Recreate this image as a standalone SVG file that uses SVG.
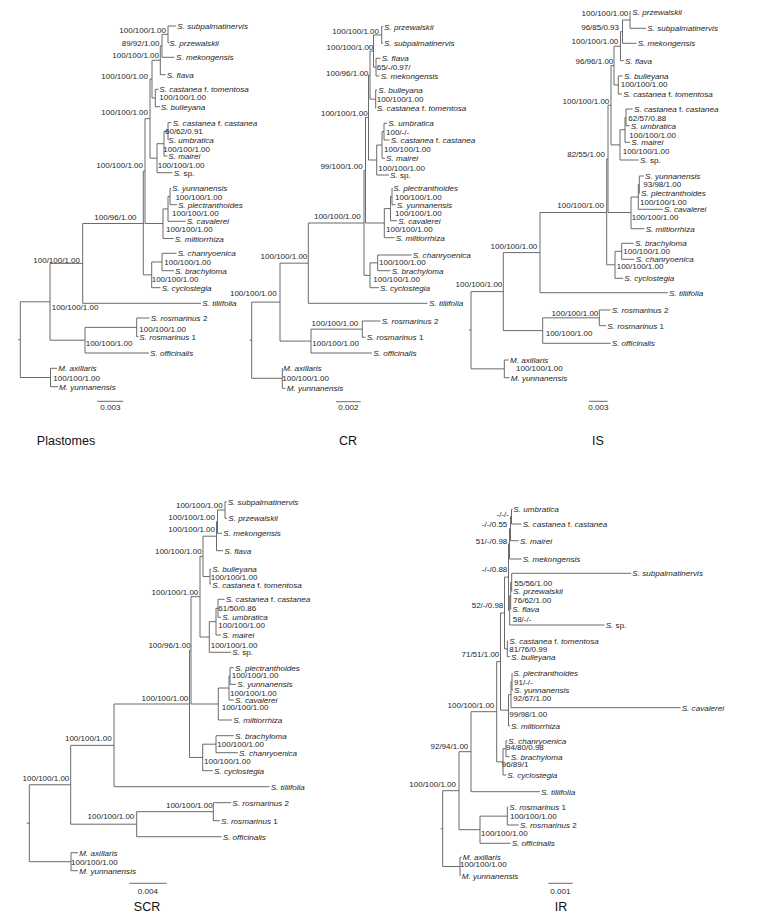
<svg xmlns="http://www.w3.org/2000/svg" width="768" height="916" viewBox="0 0 768 916">
<style>
.br path{fill:none;stroke:#5a5a5a;stroke-width:0.9}
text{font-family:"Liberation Sans",Arial,sans-serif;fill:#1e1e1e}
.sp{font-size:8.1px;font-style:italic}
.sp tspan.n{font-style:normal}
.bs{font-size:8px}
.e{text-anchor:end}
.sc{font-size:8.1px;text-anchor:middle}
.ttl{font-size:12.5px;text-anchor:middle;fill:#111}
.bar{stroke:#5a5a5a;stroke-width:0.9}
</style>
<rect width="768" height="916" fill="#fff"/>

<!-- ===================== PLASTOMES ===================== -->
<g id="tree-plastomes">
<g id="plastomes-branches" class="br"><path d="M168 26V42.7M168 26H176M168 42.7H169M162 34.35V57.3M162 34.35H168M162 57.3H174.5M160.3 45.8V74.7M160.3 45.8H162M160.3 74.7H165.5M155.3 89.3V106.7M155.3 89.3H158.5M155.3 106.7H160M152 60.25V98M152 60.25H160.3M152 98H155.3M168 122.7V140M168 122.7H171.5M168 140H168.3M164 131.35V156M164 131.35H168M164 156H167.5M157 143.7V172.7M157 143.7H164M157 172.7H172.5M150 79.1V158.2M150 79.1H152M150 158.2H157M170 188.3V204.7M170 188.3H171M170 204.7H177M168 196.5V221.3M168 196.5H170M168 221.3H185.5M163 208.9V238.5M163 208.9H168M163 238.5H173.5M145 118.65V223.5M145 118.65H150M145 223.5H163M162 253.3V270.7M162 253.3H176.5M162 270.7H174M151.7 262V287.7M151.7 262H162M151.7 287.7H160.5M143.3 171.2V274.85M143.3 171.2H145M143.3 274.85H151.7M82.7 223.5V303.3M82.7 223.5H143.3M82.7 303.3H201M136.7 318V336.7M136.7 318H149.5M136.7 336.7H138.5M85 327.35V353M85 327.35H136.7M85 353H149M50 263.4V340.2M50 263.4H82.7M50 340.2H85M50.5 368.3V386.7M50.5 368.3H57M50.5 386.7H58M20.3 301.8V377.5M20.3 301.8H50M20.3 377.5H50.5M18.3 339.6H20.3"/></g>
<g id="plastomes-tips" class="sp">
<text x="177.3" y="29">S. subpalmatinervis</text>
<text x="169.3" y="45.7">S. przewalskii</text>
<text x="176" y="60.3">S. mekongensis</text>
<text x="166.7" y="77.7">S. flava</text>
<text x="159.3" y="92.3">S. castanea <tspan class="n">f.</tspan> tomentosa</text>
<text x="160.7" y="109.7">S. bulleyana</text>
<text x="172.7" y="125.7">S. castanea <tspan class="n">f.</tspan> castanea</text>
<text x="168.3" y="143">S. umbratica</text>
<text x="168.3" y="159">S. mairei</text>
<text x="173.7" y="175.7">S. <tspan class="n">sp.</tspan></text>
<text x="172" y="191.3">S. yunnanensis</text>
<text x="177.9" y="207.7">S. plectranthoides</text>
<text x="186.7" y="224.3">S. cavalerei</text>
<text x="174.8" y="241.5">S. miltiorrhiza</text>
<text x="177.7" y="256.3">S. chanryoenica</text>
<text x="175" y="273.7">S. brachyloma</text>
<text x="161.7" y="290.7">S. cyclostegia</text>
<text x="202.3" y="306.3">S. tiliifolia</text>
<text x="150.7" y="321">S. rosmarinus <tspan class="n">2</tspan></text>
<text x="139.3" y="339.7">S. rosmarinus <tspan class="n">1</tspan></text>
<text x="150" y="356">S. officinalis</text>
<text x="58.3" y="371.3">M. axillaris</text>
<text x="59" y="389.7">M. yunnanensis</text>
</g>
<g id="plastomes-support" class="bs">
<text class="e" x="166" y="32.5">100/100/1.00</text>
<text class="e" x="159.5" y="45.7">89/92/1.00</text>
<text class="e" x="159" y="58">100/100/1.00</text>
<text class="e" x="148" y="79.3">100/100/1.00</text>
<text x="159.3" y="99.7">100/100/1.00</text>
<text class="e" x="148" y="115.3">100/100/1.00</text>
<text x="165" y="134">60/62/0.91</text>
<text x="163.3" y="152">100/100/1.00</text>
<text class="e" x="143" y="167.7">100/100/1.00</text>
<text x="157.7" y="167.7">100/100/1.00</text>
<text x="175.4" y="200.3">100/100/1.00</text>
<text x="172" y="215.5">100/100/1.00</text>
<text x="94.3" y="220.3">100/96/1.00</text>
<text x="166" y="231.7">100/100/1.00</text>
<text x="33.3" y="263">100/100/1.00</text>
<text x="164.3" y="265.3">100/100/1.00</text>
<text x="151.7" y="282.3">100/100/1.00</text>
<text x="51.7" y="309.7">100/100/1.00</text>
<text x="139.3" y="332">100/100/1.00</text>
<text x="85.7" y="346.3">100/100/1.00</text>
<text x="53.3" y="380.7">100/100/1.00</text>
</g>
<g id="plastomes-scale"><line class="bar" x1="97.3" y1="401.3" x2="123.3" y2="401.3"/><text class="sc" x="110.3" y="410.3">0.003</text></g>
<text id="title-plastomes" class="ttl" x="66" y="444.5">Plastomes</text>
</g>

<!-- ===================== CR ===================== -->
<g id="tree-cr">
<g id="cr-branches" class="br"><path d="M381.7 26.7V43.3M381.7 26.7H383M381.7 43.3H383M376 58.3V76M376 58.3H380.5M376 76H379.5M373.5 35V67.15M373.5 35H381.7M373.5 67.15H376M375.7 90V108.3M375.7 90H377M375.7 108.3H376M370 51.1V99.15M370 51.1H373.5M370 99.15H375.7M384 123.3V140M384 123.3H387M384 140H389.5M382 131.65V158.3M382 131.65H384M382 158.3H385M376.7 145V175M376.7 145H382M376.7 175H389M368.5 75.1V160M368.5 75.1H370M368.5 160H376.7M392 188.3V204.7M392 188.3H392.5M392 204.7H395.5M390.5 196.5V220.7M390.5 196.5H392M390.5 220.7H397M384.3 208.6V237.7M384.3 208.6H390.5M384.3 237.7H394.5M365.5 117.55V223M365.5 117.55H368.5M365.5 223H384.3M377.7 255V270.7M377.7 255H411.5M377.7 270.7H390.5M370 262.85V287.7M370 262.85H377.7M370 287.7H379M364 170.35V275.3M364 170.35H365.5M364 275.3H370M308.3 223V303.3M308.3 223H364M308.3 303.3H427.5M362.3 321V337.3M362.3 321H380.5M362.3 337.3H365.5M311 329.15V353M311 329.15H362.3M311 353H372M280 263.15V341.1M280 263.15H308.3M280 341.1H311M282.3 368.3V388.3M282.3 368.3H282.8M282.3 388.3H285.5M251.7 302.1V378.3M251.7 302.1H280M251.7 378.3H282.3M249.7 340.2H251.7"/></g>
<g id="cr-tips" class="sp">
<text x="384" y="29.7">S. przewalskii</text>
<text x="384" y="46.3">S. subpalmatinervis</text>
<text x="381.7" y="61.3">S. flava</text>
<text x="380.7" y="79">S. mekongensis</text>
<text x="378.3" y="93">S. bulleyana</text>
<text x="376.7" y="111.3">S. castanea  <tspan class="n">f.</tspan> tomentosa</text>
<text x="388.3" y="126.3">S. umbratica</text>
<text x="390.7" y="143">S. castanea <tspan class="n">f.</tspan> castanea</text>
<text x="386" y="161.3">S. mairei</text>
<text x="390" y="178">S. <tspan class="n">sp.</tspan></text>
<text x="393.3" y="191.3">S. plectranthoides</text>
<text x="396.7" y="207.7">S. yunnanensis</text>
<text x="398.3" y="223.7">S. cavalerei</text>
<text x="395.7" y="240.7">S. miltiorrhiza</text>
<text x="412.7" y="258">S. chanryoenica</text>
<text x="391.7" y="273.7">S. brachyloma</text>
<text x="380" y="290.7">S. cyclostegia</text>
<text x="429" y="306.3">S. tiliifolia</text>
<text x="381.7" y="324">S. rosmarinus <tspan class="n">2</tspan></text>
<text x="366.7" y="340.3">S. rosmarinus <tspan class="n">1</tspan></text>
<text x="373.3" y="356">S. officinalis</text>
<text x="283.3" y="371.3">M. axillaris</text>
<text x="286.7" y="391.3">M. yunnanensis</text>
</g>
<g id="cr-support" class="bs">
<text class="e" x="379" y="33.7">100/100/1.00</text>
<text class="e" x="373.3" y="49.7">100/100/1.00</text>
<text x="376.7" y="69.7">65/-/0.97/</text>
<text class="e" x="368.3" y="75.7">100/96/1.00</text>
<text x="376.7" y="102">100/100/1.00</text>
<text class="e" x="367.7" y="116.3">100/100/1.00</text>
<text x="386" y="134.7">100/-/-</text>
<text x="384" y="152">100/100/1.00</text>
<text class="e" x="362.7" y="168.7">99/100/1.00</text>
<text x="378.3" y="170.7">100/100/1.00</text>
<text x="395" y="199.7">100/100/1.00</text>
<text x="395" y="215.7">100/100/1.00</text>
<text class="e" x="360.7" y="219">100/100/1.00</text>
<text x="386" y="231.7">100/100/1.00</text>
<text class="e" x="307.3" y="258.7">100/100/1.00</text>
<text x="379" y="265.3">100/100/1.00</text>
<text x="373.3" y="282">100/100/1.00</text>
<text class="e" x="276.7" y="295.7">100/100/1.00</text>
<text class="e" x="358.3" y="325.7">100/100/1.00</text>
<text x="312.3" y="346.3">100/100/1.00</text>
<text x="282.3" y="380.7">100/100/1.00</text>
</g>
<g id="cr-scale"><line class="bar" x1="336" y1="401.7" x2="360.7" y2="401.7"/><text class="sc" x="348.3" y="410.3">0.002</text></g>
<text id="title-cr" class="ttl" x="348" y="444.5">CR</text>
</g>

<!-- ===================== IS ===================== -->
<g id="tree-is">
<g id="is-branches" class="br"><path d="M630 11.7V28.3M630 11.7H631M630 28.3H646M622.5 20V43.3M622.5 20H630M622.5 43.3H636.5M620.5 31.65V60.7M620.5 31.65H622.5M620.5 60.7H623.8M618.3 76V94M618.3 76H622.8M618.3 94H622M614 46.2V85M614 46.2H620.5M614 85H618.3M626 109V125.7M626 109H632.8M626 125.7H629.5M625 117.35V142.3M625 117.35H626M625 142.3H630M620 129.8V160M620 129.8H625M620 160H638.8M611 65.6V144.9M611 65.6H614M611 144.9H620M639.3 176V193.3M639.3 176H643.8M639.3 193.3H639.8M638.3 184.65V209.3M638.3 184.65H639.3M638.3 209.3H662.8M631 197V228.7M631 197H638.3M631 228.7H644.5M608 105.25V212.5M608 105.25H611M608 212.5H631M621.7 243.3V259.3M621.7 243.3H633.8M621.7 259.3H634.5M615 251.3V278.3M615 251.3H621.7M615 278.3H623M606.7 159.05V264.8M606.7 159.05H608M606.7 264.8H615M540 212.5V292.7M540 212.5H606.7M540 292.7H667.8M599.3 310V325.7M599.3 310H610.5M599.3 325.7H606M542.7 317.85V343.3M542.7 317.85H599.3M542.7 343.3H610.5M503.3 252.6V330.6M503.3 252.6H540M503.3 330.6H542.7M504.3 360V377.7M504.3 360H508.8M504.3 377.7H509.5M471 291.6V368.85M471 291.6H503.3M471 368.85H504.3M469 330H471"/></g>
<g id="is-tips" class="sp">
<text x="632.3" y="14.7">S. przewalskii</text>
<text x="647.3" y="31.3">S. subpalmatinervis</text>
<text x="637.7" y="46.3">S. mekongensis</text>
<text x="625" y="63.7">S. flava</text>
<text x="624" y="79">S. bulleyana</text>
<text x="623.3" y="97">S. castanea  <tspan class="n">f.</tspan> tomentosa</text>
<text x="634" y="112">S. castanea <tspan class="n">f.</tspan> castanea</text>
<text x="630.7" y="128.7">S. umbratica</text>
<text x="631.3" y="145.3">S. mairei</text>
<text x="640" y="163">S. <tspan class="n">sp.</tspan></text>
<text x="645" y="179">S. yunnanensis</text>
<text x="641" y="196.3">S. plectranthoides</text>
<text x="664" y="212.3">S. cavalerei</text>
<text x="645.7" y="231.7">S. miltiorrhiza</text>
<text x="635" y="246.3">S. brachyloma</text>
<text x="635.7" y="262.3">S. chanryoenica</text>
<text x="624.3" y="281.3">S. cyclostegia</text>
<text x="669" y="295.7">S. tiliifolia</text>
<text x="611.7" y="313">S. rosmarinus <tspan class="n">2</tspan></text>
<text x="607.3" y="328.7">S. rosmarinus <tspan class="n">1</tspan></text>
<text x="611.7" y="346.3">S. officinalis</text>
<text x="510" y="363">M. axillaris</text>
<text x="510.7" y="380.7">M. yunnanensis</text>
</g>
<g id="is-support" class="bs">
<text class="e" x="628.3" y="16.3">100/100/1.00</text>
<text class="e" x="619" y="29.7">96/85/0.93</text>
<text class="e" x="618.3" y="43.7">100/100/1.00</text>
<text class="e" x="613.3" y="63.7">96/96/1.00</text>
<text x="620.7" y="87">100/100/1.00</text>
<text class="e" x="609.3" y="103.7">100/100/1.00</text>
<text x="628.3" y="121.3">62/57/0.88</text>
<text x="629.3" y="138">100/100/1.00</text>
<text x="622.7" y="153.7">100/100/1.00</text>
<text class="e" x="605" y="157">82/55/1.00</text>
<text x="643.3" y="187.3">93/98/1.00</text>
<text x="640" y="204.7">100/100/1.00</text>
<text class="e" x="604" y="208">100/100/1.00</text>
<text x="631.7" y="220.3">100/100/1.00</text>
<text class="e" x="537.3" y="249">100/100/1.00</text>
<text x="623.3" y="253.7">100/100/1.00</text>
<text x="616.7" y="269">100/100/1.00</text>
<text class="e" x="502.3" y="287.3">100/100/1.00</text>
<text class="e" x="598.3" y="316.3">100/100/1.00</text>
<text x="545.7" y="336.3">100/100/1.00</text>
<text x="516" y="371.3">100/100/1.00</text>
</g>
<g id="is-scale"><line class="bar" x1="589" y1="401.3" x2="607.7" y2="401.3"/><text class="sc" x="598.3" y="410.3">0.003</text></g>
<text id="title-is" class="ttl" x="598" y="444.5">IS</text>
</g>

<!-- ===================== SCR ===================== -->
<g id="tree-scr">
<g id="scr-branches" class="br"><path d="M225 501.7V518.3M225 501.7H226.5M225 518.3H227M217.5 510V533.3M217.5 510H225M217.5 533.3H222M216.5 521.65V550.7M216.5 521.65H217.5M216.5 550.7H223M210 569V584M210 569H211M210 584H211M203 536.2V576.5M203 536.2H216.5M203 576.5H210M218 599.3V617.3M218 599.3H224.5M218 617.3H221M216 608.3V635M216 608.3H218M216 635H221M209.3 621.65V652.3M209.3 621.65H216M209.3 652.3H231M200 556.35V637M200 556.35H203M200 637H209.3M230 667.7V684.3M230 667.7H233.8M230 684.3H236M229 676V700M229 676H230M229 700H233.8M218.3 688V720M218.3 688H229M218.3 720H232M191 596.7V704M191 596.7H200M191 704H218.3M216 735.7V752.7M216 735.7H233.8M216 752.7H237.8M202.7 744.2V770.7M202.7 744.2H216M202.7 770.7H212.8M189.5 650.35V757.45M189.5 650.35H191M189.5 757.45H202.7M114 704V786.7M114 704H189.5M114 786.7H269.5M213.3 802.7V820.7M213.3 802.7H231M213.3 820.7H219.8M136.7 811.7V836.7M136.7 811.7H213.3M136.7 836.7H221.5M70.7 745.35V824.2M70.7 745.35H114M70.7 824.2H136.7M71 852.7V870.7M71 852.7H78M71 870.7H78M29.3 784.75V861.7M29.3 784.75H70.7M29.3 861.7H71M26.7 823.2H29.3"/></g>
<g id="scr-tips" class="sp">
<text x="227.7" y="504.7">S. subpalmatinervis</text>
<text x="228.3" y="521.3">S. przewalskii</text>
<text x="223.3" y="536.3">S. mekongensis</text>
<text x="224.3" y="553.7">S. flava</text>
<text x="212.3" y="572">S. bulleyana</text>
<text x="212.3" y="587.5">S. castanea  <tspan class="n">f.</tspan> tomentosa</text>
<text x="225.7" y="602.3">S. castanea <tspan class="n">f.</tspan> castanea</text>
<text x="222.3" y="620.3">S. umbratica</text>
<text x="222.3" y="638">S. mairei</text>
<text x="232.3" y="655.3">S. <tspan class="n">sp.</tspan></text>
<text x="235" y="670.7">S. plectranthoides</text>
<text x="237.3" y="687.3">S. yunnanensis</text>
<text x="235" y="703">S. cavalerei</text>
<text x="233.3" y="723">S. miltiorrhiza</text>
<text x="235" y="738.7">S. brachyloma</text>
<text x="239" y="755.7">S. chanryoenica</text>
<text x="214" y="773.7">S. cyclostegia</text>
<text x="270.7" y="789.7">S. tiliifolia</text>
<text x="232.3" y="805.7">S. rosmarinus <tspan class="n">2</tspan></text>
<text x="221" y="823.7">S. rosmarinus <tspan class="n">1</tspan></text>
<text x="222.7" y="839.7">S. officinalis</text>
<text x="79.3" y="855.7">M. axillaris</text>
<text x="79.3" y="873.7">M. yunnanensis</text>
</g>
<g id="scr-support" class="bs">
<text class="e" x="222.7" y="508">100/100/1.00</text>
<text class="e" x="215" y="519.7">100/100/1.00</text>
<text class="e" x="215" y="532.3">100/100/1.00</text>
<text class="e" x="201.7" y="554">100/100/1.00</text>
<text x="210.7" y="580">100/100/1.00</text>
<text class="e" x="198.3" y="594.7">100/100/1.00</text>
<text x="218.3" y="611.3">61/50/0.86</text>
<text x="218.3" y="628">100/100/1.00</text>
<text x="210.7" y="648">100/100/1.00</text>
<text class="e" x="190.7" y="648">100/96/1.00</text>
<text x="231.7" y="678">100/100/1.00</text>
<text x="230" y="695.5">100/100/1.00</text>
<text class="e" x="188.3" y="700.5">100/100/1.00</text>
<text x="221.7" y="710.3">100/100/1.00</text>
<text class="e" x="111.7" y="741.3">100/100/1.00</text>
<text x="217.3" y="747">100/100/1.00</text>
<text x="204" y="763.7">100/100/1.00</text>
<text class="e" x="69.3" y="781.3">100/100/1.00</text>
<text class="e" x="212.7" y="808">100/100/1.00</text>
<text class="e" x="134.3" y="819">100/100/1.00</text>
<text x="71" y="865">100/100/1.00</text>
</g>
<g id="scr-scale"><line class="bar" x1="129.3" y1="883.3" x2="166.7" y2="883.3"/><text class="sc" x="148" y="894">0.004</text></g>
<text id="title-scr" class="ttl" x="147" y="910.5">SCR</text>
</g>

<!-- ===================== IR ===================== -->
<g id="tree-ir">
<g id="ir-branches" class="br"><path d="M511.5 509.3V524M511.5 509.3H512.3M511.5 524H521.5M510.5 516.65V540.7M510.5 516.65H511.5M510.5 540.7H518.8M509.5 528.7V559M509.5 528.7H510.5M509.5 559H521.5M511.7 573.3V591.3M511.7 573.3H631M511.7 591.3H512.3M510.7 582.3V609M510.7 582.3H511.7M510.7 609H511.3M509.7 595.65V625M509.7 595.65H510.7M509.7 625H604.5M508.5 543.85V610.3M508.5 543.85H509.5M508.5 610.3H509.7M507.3 641V656.7M507.3 641H508.3M507.3 656.7H510M504.5 577.1V648.85M504.5 577.1H508.5M504.5 648.85H507.3M512 673.3V690M512 673.3H512.3M512 690H513M511 681.65V707.7M511 681.65H512M511 707.7H680.5M508.5 694.7V725.7M508.5 694.7H511M508.5 725.7H510M500.5 613V710.2M500.5 613H504.5M500.5 710.2H508.5M506 740.7V756.7M506 740.7H507.3M506 756.7H509.5M503 748.7V775M503 748.7H506M503 775H506.3M496.7 661.6V761.85M496.7 661.6H500.5M496.7 761.85H503M471 711.7V791.7M471 711.7H496.7M471 791.7H540M507.3 807.3V825M507.3 807.3H508.3M507.3 825H518.8M480 816.15V843.3M480 816.15H507.3M480 843.3H510.5M459 751.7V829.7M459 751.7H471M459 829.7H480M460 857.3V875.7M460 857.3H461.5M460 875.7H460.5M442.7 790.7V866.5M442.7 790.7H459M442.7 866.5H460M440.7 828.6H442.7"/></g>
<g id="ir-tips" class="sp">
<text x="513.3" y="512.3">S. umbratica</text>
<text x="522.7" y="527">S. castanea <tspan class="n">f.</tspan> castanea</text>
<text x="520" y="543.7">S. mairei</text>
<text x="522.7" y="562">S. mekongensis</text>
<text x="632.3" y="576.3">S. subpalmatinervis</text>
<text x="513.3" y="594.3">S. przewalskii</text>
<text x="512.3" y="612">S. flava</text>
<text x="605.7" y="628">S. <tspan class="n">sp.</tspan></text>
<text x="509.3" y="644">S. castanea  <tspan class="n">f.</tspan> tomentosa</text>
<text x="511" y="659.7">S. bulleyana</text>
<text x="513.3" y="676.3">S. plectranthoides</text>
<text x="514" y="693">S. yunnanensis</text>
<text x="681.7" y="710.7">S. cavalerei</text>
<text x="511" y="728.7">S. miltiorrhiza</text>
<text x="508.3" y="743.7">S. chanryoenica</text>
<text x="510.7" y="759.7">S. brachyloma</text>
<text x="507.3" y="778">S. cyclostegia</text>
<text x="541" y="794.7">S. tiliifolia</text>
<text x="509.3" y="810.3">S. rosmarinus <tspan class="n">1</tspan></text>
<text x="520" y="828">S. rosmarinus <tspan class="n">2</tspan></text>
<text x="511.7" y="846.3">S. officinalis</text>
<text x="462.7" y="860.3">M. axillaris</text>
<text x="461.7" y="878.7">M. yunnanensis</text>
</g>
<g id="ir-support" class="bs">
<text class="e" x="509" y="517">-/-/-</text>
<text class="e" x="507.3" y="527">-/-/0.55</text>
<text class="e" x="507.3" y="543.7">51/-/0.98</text>
<text class="e" x="507.3" y="571.7">-/-/0.88</text>
<text x="514.3" y="585.7">55/56/1.00</text>
<text x="513.3" y="603">76/62/1.00</text>
<text class="e" x="503.3" y="608">52/-/0.98</text>
<text x="512.7" y="622">58/-/-</text>
<text x="509.3" y="652">81/76/0.99</text>
<text class="e" x="499.3" y="657">71/51/1.00</text>
<text x="514" y="685.3">91/-/-</text>
<text x="513.3" y="701.3">92/67/1.00</text>
<text class="e" x="494.3" y="708">100/100/1.00</text>
<text x="509.3" y="717">99/98/1.00</text>
<text class="e" x="468.3" y="749">92/94/1.00</text>
<text x="506" y="750.3">94/80/0.98</text>
<text x="501.7" y="767">96/89/1</text>
<text class="e" x="456" y="787">100/100/1.00</text>
<text x="510" y="818.7">100/100/1.00</text>
<text x="481" y="836.3">100/100/1.00</text>
<text x="460" y="867.3">100/100/1.00</text>
</g>
<g id="ir-scale"><line class="bar" x1="548.3" y1="883.3" x2="572.7" y2="883.3"/><text class="sc" x="560.5" y="894">0.001</text></g>
<text id="title-ir" class="ttl" x="561" y="910.5">IR</text>
</g>
</svg>
